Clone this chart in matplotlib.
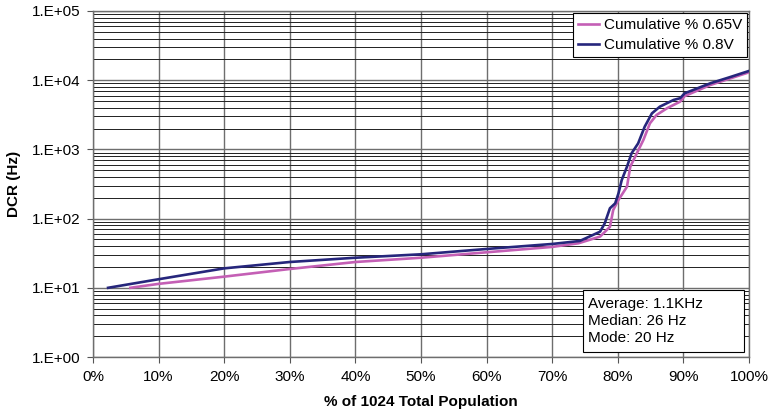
import numpy as np
import matplotlib
matplotlib.use('Agg')
import matplotlib.pyplot as plt
from matplotlib.patches import Rectangle
from matplotlib.ticker import FixedLocator, FuncFormatter, LogLocator, NullFormatter

plt.rcParams['font.family'] = ['Liberation Sans', 'DejaVu Sans']

# 0.65V 累积曲线
pct_065 = [5.7, 10, 20, 30, 40, 50, 60, 70, 74, 77.3, 78.8, 79.3, 80.1, 81.4,
           81.9, 82.9, 83.9, 84.9, 85.9, 87.5, 89.5, 90.2, 94.1, 97, 100]
dcr_065 = [10, 11.4, 14.5, 18.7, 23.6, 27.2, 32.6, 39, 44, 55, 76, 133, 186, 289,
           562, 878, 1368, 2383, 3140, 3930, 4900, 5900, 8520, 10500, 13000]

# 0.8V 累积曲线
pct_08 = [2.3, 10, 20, 30, 40, 50, 60, 70, 74.2, 77.3, 78, 78.8, 79.6, 80.1, 80.6,
          81.4, 82.1, 83.1, 84.1, 85.2, 86.4, 88.5, 89.5, 90.2, 94.1, 97, 100]
dcr_08 = [10, 13.3, 19.1, 23.6, 27.2, 30.5, 36.4, 43, 47.5, 64.7, 85, 141, 166, 231, 361,
          562, 878, 1222, 2128, 3316, 4140, 5180, 5490, 6470, 9020, 11000, 13600]

x_ticks = [0, 10, 20, 30, 40, 50, 60, 70, 80, 90, 100]
stats_text = 'Average: 1.1KHz\nMedian: 26 Hz\nMode: 20 Hz'

fig = plt.figure(figsize=(7.69, 4.16), dpi=100)
ax = fig.add_axes([0.1209, 0.1418, 0.974 - 0.1209, 0.9736 - 0.1418])

ax.plot(pct_065, dcr_065, color='#c45fb5', lw=1.9, label='Cumulative % 0.65V', zorder=3)
ax.plot(pct_08, dcr_08, color='#26267c', lw=1.9, label='Cumulative % 0.8V', zorder=4)

ax.set_yscale('log')
ax.set_ylim(1, 1e5)
ax.set_xlim(0, 100)

ax.xaxis.set_major_locator(FixedLocator(x_ticks))
ax.xaxis.set_major_formatter(FuncFormatter(lambda v, p: f'{int(v)}%'))
ax.yaxis.set_major_locator(LogLocator(base=10, numticks=10))
ax.yaxis.set_minor_locator(LogLocator(base=10, subs=np.arange(2, 10), numticks=10))
ax.yaxis.set_major_formatter(FuncFormatter(lambda v, p: f'1.E+{int(round(np.log10(v))):02d}'))
ax.yaxis.set_minor_formatter(NullFormatter())

ax.grid(True, which='major', axis='both', color='#6e6e6e', lw=1.0, zorder=1)
ax.grid(True, which='minor', axis='y', color='#202020', lw=0.7, zorder=1)

ax.tick_params(axis='both', which='major', direction='out', length=4, width=0.8,
               color='#555555', labelsize=11, pad=5)
ax.tick_params(axis='y', which='minor', length=0)
for s in ax.spines.values():
    s.set_color('#6e6e6e')
    s.set_linewidth(1.0)

ax.set_xlabel('% of 1024 Total Population', fontsize=11, fontweight='bold', labelpad=8)
ax.set_ylabel('DCR (Hz)', fontsize=11, fontweight='bold', labelpad=8)

leg = ax.legend(loc='upper right', fontsize=11, frameon=True, fancybox=False,
                edgecolor='black', framealpha=1, borderaxespad=0.15,
                handlelength=1.4, handletextpad=0.3, borderpad=0.3, labelspacing=0.4)
leg.get_frame().set_linewidth(0.8)

# 统计信息框
ax.add_patch(Rectangle((0.747, 0.0145), 0.2454, 0.179, transform=ax.transAxes,
                       fc='white', ec='black', lw=0.8, zorder=5))
ax.text(0.754, 0.104, stats_text, transform=ax.transAxes, ha='left', va='center',
        fontsize=11, linespacing=1.3, zorder=6)

fig.savefig('out.png', dpi=100)
